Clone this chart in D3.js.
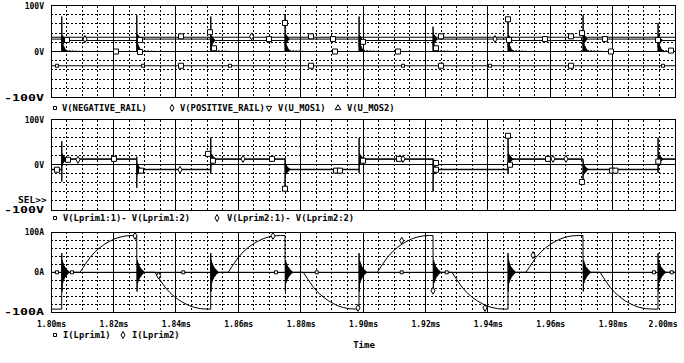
<!DOCTYPE html>
<html lang="en">
<head>
<meta charset="UTF-8">
<script src="https://d3js.org/d3.v7.min.js"></script>
<style>
  html, body { margin: 0; padding: 0; background: #fff; overflow: hidden }
  svg text { font-family: "DejaVu Sans Mono", monospace; font-weight: bold; fill: #000 }
  .trace { fill: none; stroke: #000; stroke-width: 1 }
  .minor { stroke: #000; stroke-width: 1; stroke-dasharray: 2,2; shape-rendering: crispEdges }
  .major { stroke: #000; stroke-width: 1; shape-rendering: crispEdges }
  .frame { fill: none; stroke: #000; stroke-width: 1; shape-rendering: crispEdges }
  .mark { fill: #fff; stroke: #000; stroke-width: 1 }
</style>
</head>
<body>
<svg id="chart" width="684" height="363"></svg>
<script>
// ---- data (times in ms) ----
const timeTicks = [1.80, 1.82, 1.84, 1.86, 1.88, 1.90, 1.92, 1.94, 1.96, 1.98, 2.00];
const yTicks = [-100, 0, 100];

// switching instants
const events = [1.80343, 1.82747, 1.85119, 1.87500, 1.89872, 1.92244, 1.94647, 1.97051, 1.99455];

// panel 1: rails and MOS nodes
const railLevels = [-31, 31];            // NEGATIVE_RAIL, POSITIVE_RAIL
const mosHigh = [27, 24];                // U_MOS1, U_MOS2 off-state level
const mosSpikes = [76, 79, 76, 79, 76, 54, 71, 79, 62];
const mosRiseRing = [-14, 11, -10, 9, -8, 7, -6, 5, -4, 3, -2, 2, -1, 0];
const mosFallRing = [22, 2, 18, 1, 15, 1, 12, 0, 9, 0, 6, 0, 4, 0, 2, 0];
const mosTail = [3, 0, 2, 0, 1.5, 0, 1, 0, 0.5, 0];

// panel 2: winding voltages
const lp1Levels = [-11, 12];
const lp1Spikes = [52, -51, 60, -53, 59, -59, 64, -37, 60];
const lp2Levels = [-10, 13];
const lp2Spikes = [-37, 18, -20, 15, -18, 14, -20, 12, -18];
const winRing = [-14, 11, -10, 9, -8, 7, -6, 5, -4, 4, -3, 2, -2, 1, -1, 0];

// panel 3: primary currents
const rampUs = [0, 1.6, 3.2, 4.8, 6.4, 8.0, 9.6, 11.2, 12.8, 14.7, 16.7, 18.6];
const rampA = [0, 19, 37, 51, 62, 71, 78, 84, 88, 91, 92, 93];
const lp1RampStarts = [1.80930, 1.85680, 1.90458, 1.95224];
const lp2RampStarts = [1.83333, 1.88087, 1.92853, 1.97596];
const lp2Initial = -92;
const curRing = [48, -48, 30, -27, 24, -22, 20, -18, 16, -15, 13, -12, 11, -10, 9, -8, 7, -6, 5, -4, 4, -3, 2, -2, 1, -1, 0];

// trace symbols [time, value]
const p1Squares = [[1.80513, 25], [1.82083, 0], [1.82853, 25], [1.82853, -1], [1.84167, 33], [1.84167, -31],
  [1.85096, 42], [1.85224, 7], [1.86987, 27], [1.87500, 62], [1.88333, 33], [1.88333, -31], [1.89038, 27],
  [1.89103, 0], [1.90000, 21], [1.91122, 0], [1.92340, 7], [1.92500, 33], [1.92500, -31], [1.94647, 70],
  [1.94679, 25], [1.95833, 27], [1.96667, 33], [1.96667, -31], [1.97019, 40], [1.97756, 27], [1.97949, 0],
  [1.99455, 25], [1.99872, 2]];
const p1Small = [[1.80192, -31], [1.82949, -31], [1.85737, -31], [1.91282, -31], [1.94071, -31], [1.99615, -31]];
const p1Diamonds = [[1.81090, 27], [1.86430, 33], [1.94230, 27]];
const p2Squares = [[1.80192, -11], [1.80545, 11], [1.82019, 13], [1.82885, -13], [1.85032, 24], [1.85192, 9],
  [1.87083, 13], [1.87500, -53], [1.89135, -13], [1.89260, -13], [1.90000, 9], [1.91154, 13], [1.92340, 4],
  [1.92340, -11], [1.94647, 64], [1.94712, 0], [1.95929, 13], [1.97019, -38], [1.97981, -13], [1.98090, -13],
  [1.99465, 7]];
const p2Diamonds = [[1.80865, 11], [1.84135, -11], [1.86154, 13], [1.91282, 13], [1.96090, 13], [1.96506, 13]];
const p3Small = [[1.80192, 0], [1.80673, 0], [1.84240, 0], [1.87212, 0], [1.88516, 0], [1.91240, 0],
  [1.92683, 0], [1.99327, 0], [1.99894, 0]];
const p3Diamonds = [[1.82692, 91], [1.83450, -8], [1.87115, 91], [1.89840, -89], [1.91240, 79],
  [1.92244, -46], [1.93910, -89], [1.95449, 43]];

const legend1 = ["V(NEGATIVE_RAIL)", "V(POSITIVE_RAIL)", "V(U_MOS1)", "V(U_MOS2)"];
const legend2 = ["V(Lprim1:1)- V(Lprim1:2)", "V(Lprim2:1)- V(Lprim2:2)"];
const legend3 = ["I(Lprim1)", "I(Lprim2)"];

// ---- build traces ----
const US = 0.001; // one microsecond in ms

function buildMos(k) {
  const high = mosHigh[k];
  const isHigh = i => (i % 2 === 0) === (k === 0);
  const pts = [[1.80, isHigh(0) ? high : 0]];
  events.forEach((e, j) => {
    if (isHigh(j + 1)) {
      pts.push([e, 0], [e + 0.02 * US, mosSpikes[j]]);
      mosRiseRing.forEach((r, n) => pts.push([e + (0.1 + 0.1 * n) * US, high + r]));
    } else {
      pts.push([e, high]);
      mosFallRing.forEach((r, n) => pts.push([e + (0.02 + 0.1 * n) * US, r]));
      const t0 = e + 0.1 * mosFallRing.length * US;
      mosTail.forEach((r, n) => pts.push([t0 + 0.5 * n * US, r]));
    }
  });
  pts.push([2.01, isHigh(events.length) ? high : 0]);
  return pts;
}

function buildWinding(levels, spikes) {
  const lvl = i => levels[i % 2];
  const pts = [[1.80, lvl(0)]];
  events.forEach((e, j) => {
    const from = lvl(j), to = lvl(j + 1), sgn = Math.sign(to - from);
    pts.push([e, from], [e + 0.02 * US, spikes[j]]);
    winRing.forEach((r, n) => pts.push([e + (0.1 + 0.1 * n) * US, to + sgn * r]));
  });
  pts.push([2.01, lvl(events.length)]);
  return pts;
}

function buildCurrent(starts, endIdx, sign, initial) {
  const pts = [[1.80, initial]];
  const ring = e => curRing.forEach((r, n) => pts.push([e + (0.02 + 0.1 * n) * US, r]));
  if (initial !== 0) { pts.push([events[0], initial]); ring(events[0]); }
  starts.forEach((s, h) => {
    const e = events[endIdx[h]];
    let last = 0;
    rampUs.forEach((u, n) => {
      const t = s + u * US;
      if (t < e) { pts.push([t, sign * rampA[n]]); last = sign * rampA[n]; }
    });
    pts.push([e, last]);
    ring(e);
  });
  pts.push([2.01, 0]);
  return pts;
}

const panels = [
  { top: 5.5, bottom: 97.5, unit: "V",
    traces: [[[1.80, railLevels[0]], [2.01, railLevels[0]]], [[1.80, railLevels[1]], [2.01, railLevels[1]]],
             buildMos(0), buildMos(1)],
    marks: [[p1Squares, "S"], [p1Small, "s"], [p1Diamonds, "d"]] },
  { top: 119.5, bottom: 210, unit: "V",
    traces: [buildWinding(lp1Levels, lp1Spikes), buildWinding(lp2Levels, lp2Spikes)],
    marks: [[p2Squares, "S"], [p2Diamonds, "d"]] },
  { top: 232.3, bottom: 312.3, unit: "A",
    traces: [buildCurrent(lp1RampStarts, [1, 3, 5, 7], 1, 0), buildCurrent(lp2RampStarts, [2, 4, 6, 8], -1, lp2Initial)],
    marks: [[p3Small, "s"], [p3Diamonds, "d"]] }
];

// ---- draw ----
const svg = d3.select("#chart");
const left = 51, right = 675;
const x = d3.scaleLinear().domain([1.80, 2.00]).range([left, right]);

const symbols = {
  S: d3.symbol().type(d3.symbolSquare).size(25),
  s: d3.symbol().type(d3.symbolSquare).size(9),
  d: d3.symbol().type(d3.symbolDiamond).size(14),
  u: d3.symbol().type(d3.symbolTriangle).size(14)
};

const minorX = d3.range(0, 41).map(i => 1.80 + i * 0.005).filter(t => !timeTicks.some(m => Math.abs(m - t) < 1e-9));

panels.forEach((p, pi) => {
  const y = d3.scaleLinear().domain([-100, 100]).range([p.bottom, p.top]);
  const g = svg.append("g");

  g.append("clipPath").attr("id", "clip" + pi)
    .append("rect").attr("x", left).attr("y", p.top).attr("width", right - left).attr("height", p.bottom - p.top);

  // grid
  g.selectAll(".mx").data(minorX).join("line").attr("class", "minor")
    .attr("x1", d => x(d)).attr("x2", d => x(d)).attr("y1", p.top).attr("y2", p.bottom);
  g.selectAll(".my").data(y.ticks(10).filter(v => v !== 0 && Math.abs(v) !== 100)).join("line").attr("class", "minor")
    .attr("x1", left).attr("x2", right).attr("y1", d => y(d)).attr("y2", d => y(d));
  g.selectAll(".Mx").data(timeTicks.slice(1, -1)).join("line").attr("class", "major")
    .attr("x1", d => x(d)).attr("x2", d => x(d)).attr("y1", p.top).attr("y2", p.bottom);
  g.append("line").attr("class", "major").attr("x1", left).attr("x2", right).attr("y1", y(0)).attr("y2", y(0));

  // traces
  const line = d3.line().x(d => x(d[0])).y(d => y(d[1]));
  const tg = g.append("g").attr("clip-path", `url(#clip${pi})`);
  p.traces.forEach(t => tg.append("path").attr("class", "trace").attr("d", line(t)));
  p.marks.forEach(([pts, kind]) => {
    tg.selectAll(null).data(pts).join("path").attr("class", "mark")
      .attr("transform", d => `translate(${x(d[0])},${y(d[1])})`).attr("d", symbols[kind]);
  });

  g.append("rect").attr("class", "frame")
    .attr("x", left).attr("y", p.top).attr("width", right - left).attr("height", p.bottom - p.top);

  // y axis labels
  const ax = g.append("g").attr("transform", `translate(${left},0)`)
    .call(d3.axisLeft(y).tickValues(yTicks).tickFormat(d => d + p.unit).tickSize(0).tickPadding(7));
  ax.select(".domain").remove();
  ax.selectAll("text").style("font-size", "8px").style("font-family", null)
    .filter(d => d < 0).attr("textLength", 40).attr("lengthAdjust", "spacingAndGlyphs");
});

// time axis labels
const xa = svg.append("g").attr("transform", "translate(0,312.3)")
  .call(d3.axisBottom(x).tickValues(timeTicks).tickFormat(d => d3.format(".2f")(d) + "ms").tickSize(0).tickPadding(9));
xa.select(".domain").remove();
xa.selectAll("text").style("font-size", "8px").style("font-family", null);
xa.selectAll("text").filter(d => d === 2.00).attr("text-anchor", "end").attr("dx", 2);

// legends
function legend(yc, items) {
  items.forEach(([kind, mx, label, tx]) => {
    svg.append("path").attr("class", "mark").attr("d", symbols[kind === "v" ? "u" : kind])
      .attr("transform", `translate(${mx},${yc})` + (kind === "v" ? " rotate(180)" : ""));
    svg.append("text").attr("x", tx).attr("y", yc).attr("dy", "0.35em")
      .style("font-size", "8.8px").text(label);
  });
}
legend(108, [["s", 55, legend1[0], 62], ["d", 172, legend1[1], 180], ["v", 269, legend1[2], 278], ["u", 338, legend1[3], 347]]);
legend(218, [["s", 55, legend2[0], 63], ["d", 217, legend2[1], 227]]);
legend(335, [["s", 55, legend3[0], 63], ["d", 123, legend3[1], 132]]);

svg.append("text").attr("x", 18).attr("y", 200).attr("dy", "0.35em").style("font-size", "9.5px").text("SEL>>");
svg.append("text").attr("x", 364).attr("y", 345).attr("dy", "0.35em").attr("text-anchor", "middle")
  .style("font-size", "9px").text("Time");
</script>
</body>
</html>
